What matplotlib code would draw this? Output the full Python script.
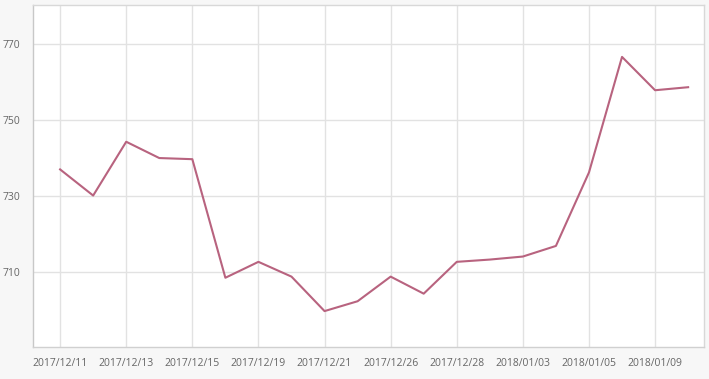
import matplotlib
matplotlib.use("Agg")
import matplotlib.pyplot as plt

dates = ["2017/12/11", "2017/12/12", "2017/12/13", "2017/12/14", "2017/12/15",
         "2017/12/18", "2017/12/19", "2017/12/20", "2017/12/21", "2017/12/22",
         "2017/12/26", "2017/12/27", "2017/12/28", "2017/12/29", "2018/01/03",
         "2018/01/04", "2018/01/05", "2018/01/08", "2018/01/09", "2018/01/10"]
values = [737.0, 730.1, 744.3, 740.0, 739.7,
          708.4, 712.6, 708.7, 699.6, 702.2,
          708.7, 704.2, 712.6, 713.2, 714.0,
          716.8, 736.2, 766.7, 757.9, 758.7]
yticks = [710, 730, 750, 770]

plt.rcParams['font.family'] = ['Open Sans', 'DejaVu Sans']
fig = plt.figure(figsize=(7.09, 3.79), dpi=100, facecolor='#f7f7f7')
ax = fig.add_axes([33/709, 1 - 346.7/379, (704-33)/709, (346.7-5)/379])
ax.set_facecolor('white')

x = list(range(len(dates)))
ax.plot(x, values, color='#b8637f', lw=1.5, zorder=3)

ax.set_xlim(-0.82, 19.48)
ax.set_ylim(690.2, 780.4)
ax.set_xticks(x[::2], dates[::2])
ax.set_yticks(yticks, [str(v) for v in yticks])
ax.grid(True, color='#e2e2e2', lw=1.0)
ax.set_axisbelow(True)
ax.tick_params(length=0, colors='#666666', labelsize=7.5, pad=8)
ax.tick_params(axis='y', pad=9)
for s in ax.spines.values():
    s.set_color('#d8d8d8')
    s.set_linewidth(1.0)
ax.spines['left'].set_color('#c8c8c8')
ax.spines['bottom'].set_color('#d0d0d0')

fig.savefig('out.png', dpi=100, facecolor=fig.get_facecolor())
